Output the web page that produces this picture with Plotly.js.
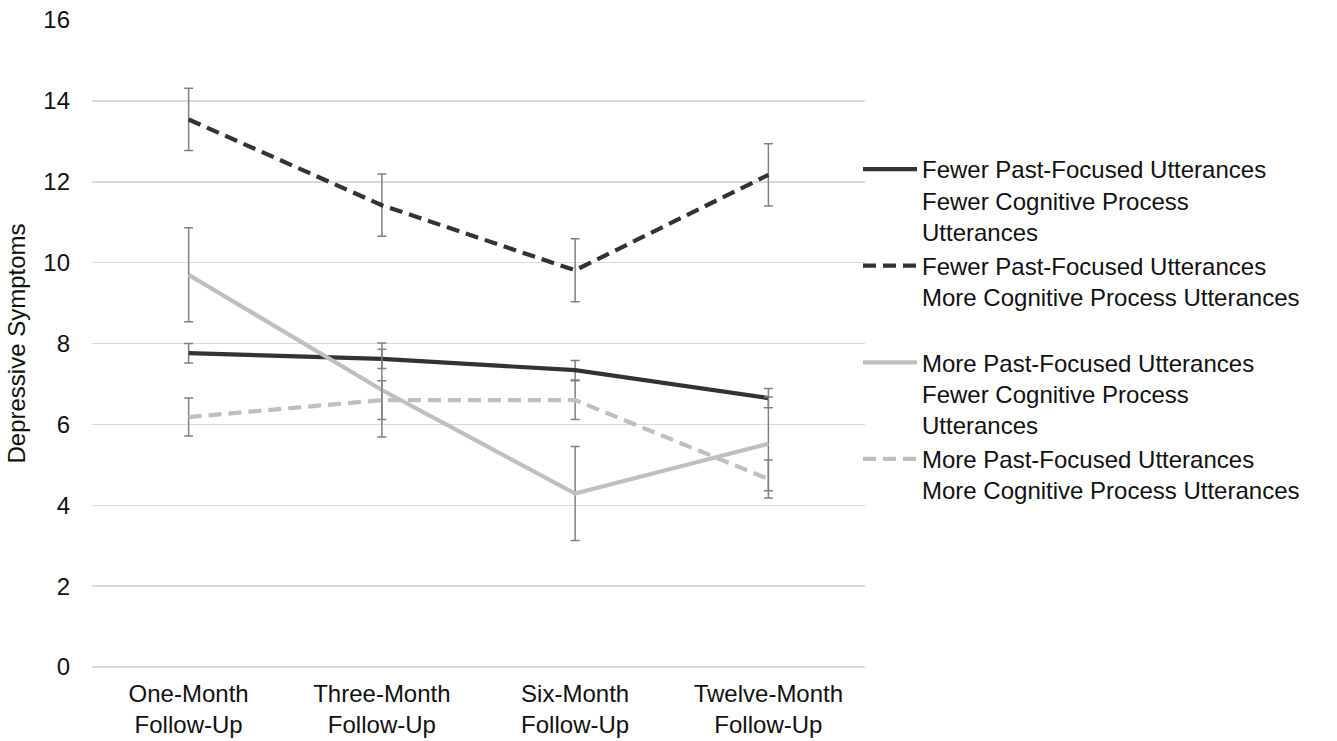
<!DOCTYPE html>
<html>
<head>
<meta charset="utf-8">
<script src="https://cdn.plot.ly/plotly-3.0.1.min.js"></script>
<style>html,body{margin:0;padding:0;background:#fff;}#chart{width:1337px;height:741px;}</style>
</head>
<body>
<div id="chart"></div>
<script>
const categories = ["One-Month<br>Follow-Up", "Three-Month<br>Follow-Up", "Six-Month<br>Follow-Up", "Twelve-Month<br>Follow-Up"];
const seriesNames = [
  "Fewer Past-Focused Utterances<br>Fewer Cognitive Process<br>Utterances",
  "Fewer Past-Focused Utterances<br>More Cognitive Process Utterances<br>\u00a0",
  "More Past-Focused Utterances<br>Fewer Cognitive Process<br>Utterances",
  "More Past-Focused Utterances<br>More Cognitive Process Utterances"
];
const fewerFewer = [7.76, 7.62, 7.34, 6.65];
const fewerFewerErr = [0.24, 0.24, 0.24, 0.24];
const fewerMore = [13.54, 11.42, 9.81, 12.17];
const fewerMoreErr = [0.77, 0.77, 0.78, 0.77];
const moreFewer = [9.70, 6.85, 4.29, 5.52];
const moreFewerErr = [1.16, 1.16, 1.16, 1.16];
const moreMore = [6.18, 6.60, 6.60, 4.65];
const moreMoreErr = [0.47, 0.48, 0.48, 0.47];
const yTicks = [0, 2, 4, 6, 8, 10, 12, 14, 16];

const dark = "#333333", light = "#bfbfbf", errColor = "#808080";
function errBar(arr) {
  return {type: "data", array: arr, visible: true, color: errColor, thickness: 1.5, width: 4.5};
}
function trace(y, err, name, color, dash) {
  return {
    x: categories, y: y, name: name, type: "scatter", mode: "lines",
    line: {color: color, width: 4.2, dash: dash},
    error_y: errBar(err)
  };
}
const data = [
  trace(fewerFewer, fewerFewerErr, seriesNames[0], dark, "solid"),
  trace(fewerMore, fewerMoreErr, seriesNames[1], dark, "13px,7px"),
  trace(moreFewer, moreFewerErr, seriesNames[2], light, "solid"),
  trace(moreMore, moreMoreErr, seriesNames[3], light, "13px,7px")
];
const layout = {
  width: 1337, height: 741,
  margin: {l: 92, r: 472, t: 20, b: 74, autoexpand: false},
  paper_bgcolor: "#fff", plot_bgcolor: "#fff",
  font: {family: "Liberation Sans, Arial, sans-serif", size: 24, color: "#111"},
  showlegend: true,
  legend: {
    xref: "container", yref: "container",
    x: 858/1337, y: 1 - 147/741, xanchor: "left", yanchor: "top",
    valign: "top", font: {size: 24, color: "#111"}, itemwidth: 54,
    bgcolor: "rgba(0,0,0,0)", tracegroupgap: 0
  },
  xaxis: {
    type: "category", range: [-0.5, 3.5], showgrid: false, zeroline: false,
    showline: false, ticks: "", ticklabelstandoff: 10,
    tickfont: {size: 24, color: "#111"}, fixedrange: true
  },
  yaxis: {
    range: [0, 16], tickvals: yTicks, ticktext: yTicks.map(String),
    showgrid: true, gridcolor: "#d9d9d9", gridwidth: 1.5,
    zeroline: true, zerolinecolor: "#d9d9d9", zerolinewidth: 1.5,
    showline: false, ticks: "", ticklabelstandoff: 21,
    tickfont: {size: 24, color: "#111"},
    title: {text: "Depressive Symptoms", font: {size: 24, color: "#111"}, standoff: 10}
  }
};
Plotly.newPlot("chart", data, layout, {displayModeBar: false, staticPlot: true});
</script>
</body>
</html>
